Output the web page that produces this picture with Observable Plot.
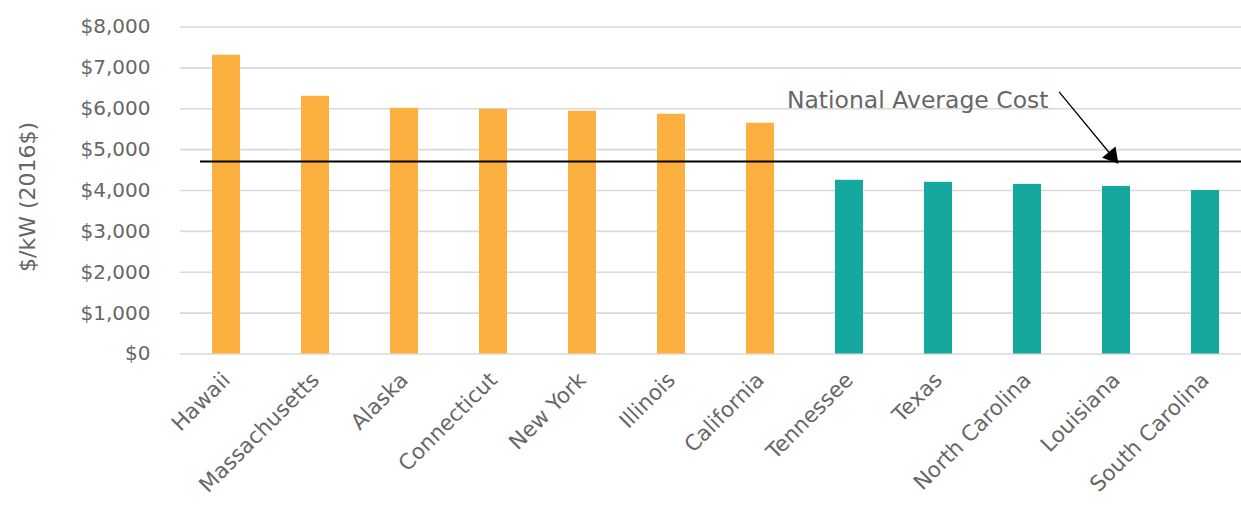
<!DOCTYPE html>
<html><head><meta charset="utf-8">
<script src="https://cdn.jsdelivr.net/npm/d3@7"></script>
<script src="https://cdn.jsdelivr.net/npm/@observablehq/plot@0.6"></script>
<style>
body{margin:0;background:#fff;}
#chart svg{overflow:visible;}
</style>
</head><body><div id="chart"></div>
<script>
const states = ["Hawaii","Massachusetts","Alaska","Connecticut","New York","Illinois","California","Tennessee","Texas","North Carolina","Louisiana","South Carolina"];
const costs = [7310, 6305, 6010, 5985, 5940, 5865, 5645, 4250, 4200, 4150, 4100, 4000];
const groups = ["high","high","high","high","high","high","high","low","low","low","low","low"];
const groupDomain = ["high","low"];
const groupColors = ["#FBB040","#14A89E"];
const yTicks = [0,1000,2000,3000,4000,5000,6000,7000,8000];
const yLabel = ["$/kW (2016$)"];
const nationalAverage = 4710;
const annotationText = ["National Average Cost"];
const annotationState = ["North Carolina"];
const annotationY = [6200];
const arrowFrom = {state:"North Carolina", y:7350};
const arrowTo = {state:"Louisiana", y:nationalAverage};

const data = states.map((s,i)=>({state:s, cost:costs[i], group:groups[i]}));
const font = "'DejaVu Sans', sans-serif";
const gray = "#666666";

const chart = Plot.plot({
  width: 1241,
  height: 506,
  marginLeft: 180,
  marginRight: 0,
  marginTop: 27,
  marginBottom: 152,
  style: {fontFamily: font, fontSize: "20px", color: gray, background: "#fff"},
  x: {domain: states, range: [180, 1250], paddingInner: 0.686, paddingOuter: 0.343, label: null},
  y: {domain: [0, 8000], range: [353.5, 26.5], label: null},
  color: {domain: groupDomain, range: groupColors},
  marks: [
    Plot.ruleY(yTicks, {stroke: "#d9d9d9", strokeWidth: 1.6}),
    Plot.barY(data, {x: "state", y: "cost", fill: "group"}),
    Plot.ruleY([nationalAverage], {stroke: "#000", strokeWidth: 2.2, insetLeft: 20}),
    Plot.axisY({ticks: yTicks, tickFormat: d => "$" + d3.format(",")(d), tickSize: 0, tickPadding: 30, fontSize: 20, fill: gray, label: null}),
    Plot.text(yLabel, {frameAnchor: "left", text: d => d, rotate: -90, textAnchor: "middle", dx: -153, dy: 6, fontSize: 22, fill: gray}),
    Plot.axisX({tickSize: 0, tickRotate: -45, tickPadding: 22, dx: 0, fontSize: 21.5, fill: gray, label: null}),
    Plot.text(annotationText, {x: annotationState, y: annotationY, text: d => d, textAnchor: "end", dx: 21, fontSize: 23.5, fill: gray}),
    Plot.arrow([0], {x1: [arrowFrom.state], y1: [arrowFrom.y], x2: [arrowTo.state], y2: [arrowTo.y],
      stroke: "#000", strokeWidth: 1.3, headLength: 0, insetStart: 50, insetEnd: 10}),
    Plot.dot([0], {x: [arrowTo.state], y: [arrowTo.y], symbol: "triangle", r: 6.5, rotate: 140, fill: "#000", stroke: null, dx: -4.5, dy: -5.5})
  ]
});
document.getElementById("chart").appendChild(chart);
</script>
</body></html>
